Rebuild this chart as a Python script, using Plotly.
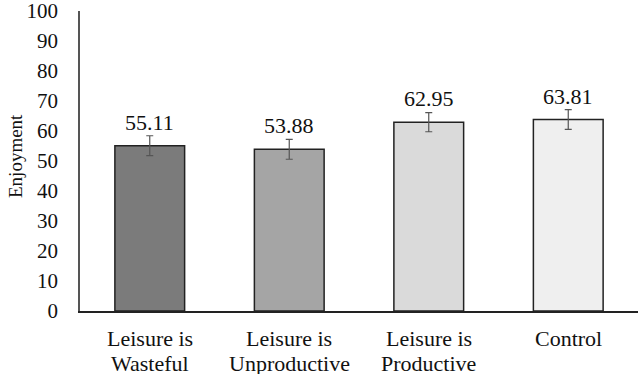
import plotly.graph_objects as go

categories = ["Leisure is Wasteful", "Leisure is Unproductive", "Leisure is Productive", "Control"]
label_line1 = ["Leisure is", "Leisure is", "Leisure is", "Control"]
label_line2 = ["Wasteful", "Unproductive", "Productive", ""]
values = [55.11, 53.88, 62.95, 63.81]
errors = [3.3, 3.3, 3.2, 3.3]
labels = ["55.11", "53.88", "62.95", "63.81"]
colors = ["#7b7b7b", "#a5a5a5", "#dadada", "#efefef"]
y_ticks = list(range(0, 101, 10))

FONT = "Liberation Serif"

fig = go.Figure()
fig.add_trace(go.Bar(
    x=categories, y=values,
    marker=dict(color=colors, line=dict(color="#222222", width=1.5)),
    error_y=dict(type="data", array=errors, visible=True, color="#555555", thickness=1.2, width=3.5),
    width=0.5,
    hoverinfo="skip",
))

for c, v, t in zip(categories, values, labels):
    fig.add_annotation(x=c, y=v, text=t, showarrow=False, yanchor="bottom", yshift=9,
                       font=dict(family=FONT, size=22, color="#111111"))

for c, l1, l2 in zip(categories, label_line1, label_line2):
    fig.add_annotation(x=c, y=0, text=l1, showarrow=False, yanchor="middle", yshift=-27,
                       font=dict(family=FONT, size=22, color="#111111"))
    if l2:
        fig.add_annotation(x=c, y=0, text=l2, showarrow=False, yanchor="middle", yshift=-52,
                           font=dict(family=FONT, size=22, color="#111111"))

fig.add_annotation(xref="paper", yref="paper", x=0, y=0.5, xshift=-65, yshift=5,
                   xanchor="center", yanchor="middle",
                   text="Enjoyment", textangle=-90, showarrow=False,
                   font=dict(family=FONT, size=19, color="#111111"))

fig.update_layout(
    width=640, height=374,
    margin=dict(l=80, r=2, t=11, b=63),
    paper_bgcolor="white", plot_bgcolor="white",
    showlegend=False,
    font=dict(family=FONT, size=22, color="#111111"),
    xaxis=dict(showline=True, linecolor="#222222", linewidth=1.5, ticks="", showgrid=False,
               automargin=False, showticklabels=False),
    yaxis=dict(range=[0, 100], tickvals=y_ticks, showline=True, linecolor="#555555", linewidth=1.5,
               showgrid=False, zeroline=False, ticks="", automargin=False, ticklabelstandoff=16,
               ticklabeloverflow="allow",
               tickfont=dict(family=FONT, size=21, color="#111111")),
)

fig.write_html("out.html", config={"displayModeBar": False},
               post_script="document.body.style.margin='0';document.body.style.overflow='hidden';")
